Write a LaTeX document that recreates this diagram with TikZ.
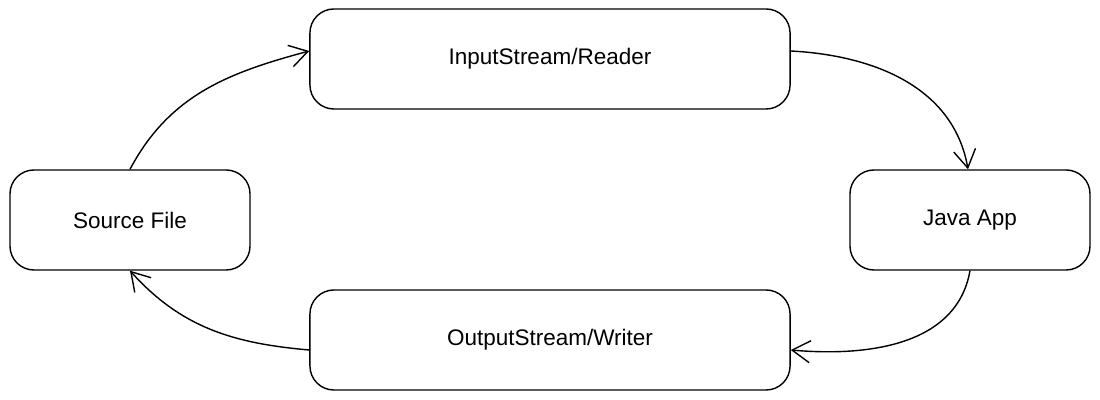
\documentclass[tikz,border=0pt]{standalone}
\usepackage{fontspec}
\setmainfont{Liberation Sans}
\usetikzlibrary{arrows.meta}

\tikzset{
  box/.style={draw, line width=1pt, rounded corners=0.6cm, minimum height=2.5cm, font=\fontsize{16}{19}\selectfont},
  flow/.style={line width=1pt, -{Straight Barb[length=0.45cm,width=0.55cm]}}
}

\begin{document}
\begin{tikzpicture}[x=0.025cm, y=0.025cm]
 \useasboundingbox (0,0) rectangle (1100,400);

 %boxes
 \foreach \i/\x/\y/\w/\name in {src/130/180/6/{Source File}, jav/970/180/6/{Java App}, inp/550/341/12/{InputStream/Reader}, out/550/60/12/{OutputStream/Writer}} {
         \node[box, minimum width=\w cm] (\i) at (\x,\y) {\name};
 }

 %arrows
 \draw[flow] (src.north) to[out=62, in=195] ([yshift=0.2cm]inp.west);
 \draw[flow] ([yshift=0.2cm]inp.east) to[out=-3, in=100] ([xshift=-0.05cm]jav.north);
 \draw[flow] (jav.south) to[out=-100, in=-5] ([yshift=-0.25cm]out.east);
 \draw[flow] ([yshift=-0.25cm]out.west) to[out=175, in=-48] (src.south);

\end{tikzpicture}
\end{document}
